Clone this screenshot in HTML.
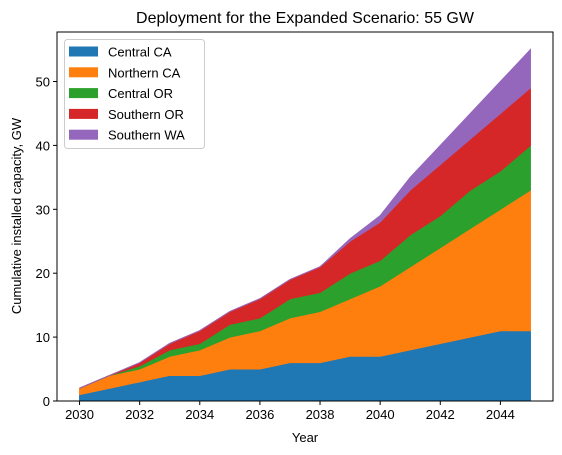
<!DOCTYPE html>
<html><head><meta charset="utf-8"><style>
body{margin:0;background:#fff;}
svg{display:block;font-family:"Liberation Sans","DejaVu Sans",sans-serif;}
</style></head><body>
<svg id="chart" width="562" height="455" viewBox="0 0 562 455">
<rect width="562" height="455" fill="#fff"/>
<text x="305" y="23" text-anchor="middle" font-size="16" fill="#000">Deployment for the Expanded Scenario: 55 GW</text>
<g id="areas"></g>
<g id="axes"></g>
<text x="305" y="442" text-anchor="middle" font-size="13" fill="#000">Year</text>
<text transform="translate(21,216) rotate(-90)" text-anchor="middle" font-size="13" fill="#000">Cumulative installed capacity, GW</text>
<g id="legend"></g>
</svg>
<script>
const years = [2030,2031,2032,2033,2034,2035,2036,2037,2038,2039,2040,2041,2042,2043,2044,2045];
const centralCA = [1,2,3,4,4,5,5,6,6,7,7,8,9,10,11,11];
const northernCA = [1,2,2,3,4,5,6,7,8,9,11,13,15,17,19,22];
const centralOR = [0,0,0.5,1,1,2,2,3,3,4,4,5,5,6,6,7];
const southernOR = [0,0,0.5,1,2,2,3,3,4,5,6,7,8,8,9,9];
const southernWA = [0,0,0,0,0,0,0,0,0,0.4,1,2,3,4,5,6];
const seriesNames = ["Central CA","Northern CA","Central OR","Southern OR","Southern WA"];
const xTicks = [2030,2032,2034,2036,2038,2040,2042,2044];
const yTicks = [0,10,20,30,40,50];

const colors = ["#1f77b4","#ff7f0e","#2ca02c","#d62728","#9467bd"];
const L=57,R=553,T=32,B=401;
const xMin=2029.25,xMax=2045.75,yMax=57.75;
const xs=v=>L+(v-xMin)/(xMax-xMin)*(R-L);
const ys=v=>B-v/yMax*(B-T);
const NS="http://www.w3.org/2000/svg";
const mk=(t,a,p)=>{const e=document.createElementNS(NS,t);for(const k in a)e.setAttribute(k,a[k]);p.appendChild(e);return e;};

const series=[centralCA,northernCA,centralOR,southernOR,southernWA];
const areas=document.getElementById('areas');
let base=years.map(()=>0);
series.forEach((s,i)=>{
  const top=base.map((b,j)=>b+s[j]);
  let d="M"+years.map((y,j)=>xs(y)+","+ys(top[j])).join("L");
  for(let j=years.length-1;j>=0;j--)d+="L"+xs(years[j])+","+ys(base[j]);
  d+="Z";
  const p=mk('path',{d:d,fill:colors[i],stroke:colors[i],'stroke-width':1},areas);
  
  
  base=top;
});

const ax=document.getElementById('axes');
const fr=mk('rect',{x:L,y:T,width:R-L,height:B-T,fill:'none',stroke:'#000','stroke-width':1},ax);


xTicks.forEach(t=>{
  const x=xs(t);
  const tk=mk('line',{x1:x,x2:x,y1:B,y2:B+4,stroke:'#000'},ax);
  
  
  const lb=mk('text',{x:x,y:B+18,'text-anchor':'middle','font-size':13,fill:'#000'},ax);
  lb.textContent=t;
  
  
});
yTicks.forEach(t=>{
  const y=ys(t);
  const tk=mk('line',{x1:L-4,x2:L,y1:y,y2:y,stroke:'#000'},ax);
  
  
  const lb=mk('text',{x:L-7,y:y+5,'text-anchor':'end','font-size':13,fill:'#000'},ax);
  lb.textContent=t;
  
  
});

const lg=document.getElementById('legend');
const box=mk('rect',{x:64.5,y:39.5,width:140,height:109,rx:3,fill:'#fff','fill-opacity':0.8,stroke:'#ccc'},lg);


seriesNames.forEach((n,i)=>{
  const cy=51.5+i*20.8;
  const sw=mk('rect',{x:69,y:cy-5,width:29,height:10,fill:colors[i]},lg);
  
  
  const tx=mk('text',{x:108,y:cy+5,'font-size':13,fill:'#000'},lg);
  tx.textContent=n;
  
  
});
</script>
</body></html>
